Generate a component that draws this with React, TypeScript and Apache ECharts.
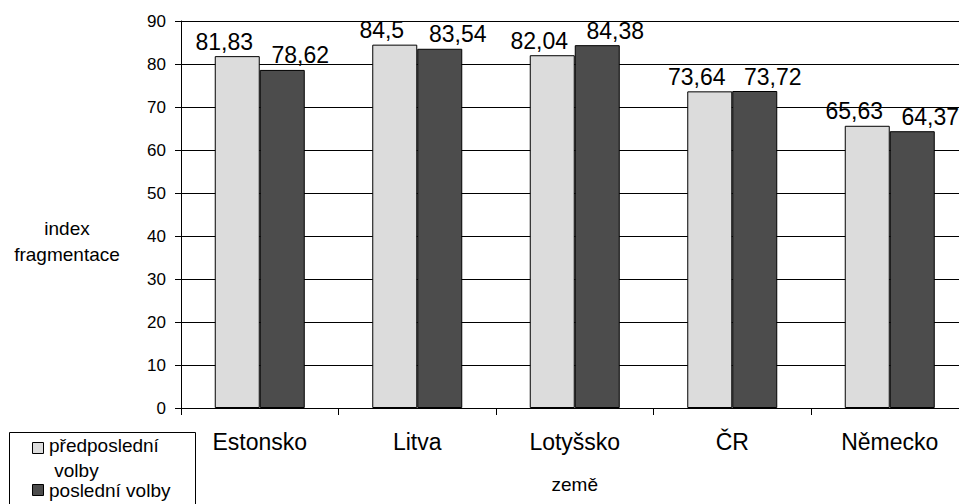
import React, { useEffect, useRef } from "react";
import * as echarts from "echarts";

const categories = ["Estonsko", "Litva", "Lotyšsko", "ČR", "Německo"];
const seriesNames = ["předposlední volby", "poslední volby"];
const previousElection = [81.83, 84.5, 82.04, 73.64, 65.63];
const lastElection = [78.62, 83.54, 84.38, 73.72, 64.37];
const yTicks = { min: 0, max: 90, interval: 10 };
const yAxisName = "index\nfragmentace";
const xAxisName = "země";

const FONT = "'Liberation Sans', Arial, sans-serif";
const COLORS = ["#dcdcdc", "#4c4c4c"];

export default function App() {
  const ref = useRef<HTMLDivElement>(null);

  useEffect(() => {
    if (!ref.current) return;
    const chart = echarts.init(ref.current, undefined, { renderer: "svg" });
    const fmt = (p: any) => String(p.value).replace(".", ",");
    const mkSeries = (name: string, data: number[], i: number) => ({
      type: "bar",
      name,
      data,
      barWidth: 45,
      barGap: "0%",
      itemStyle: { color: COLORS[i], borderColor: "#000", borderWidth: 1 },
      label: {
        show: true,
        position: "top",
        distance: 3,
        offset: [i === 0 ? -13 : 18, 0],
        formatter: fmt,
        color: "#000",
        fontSize: 23,
        fontFamily: FONT,
      },
    });

    chart.setOption({
      animation: false,
      backgroundColor: "#fff",
      textStyle: { fontFamily: FONT },
      grid: { left: 181, top: 21, width: 787.5, height: 387, containLabel: false },
      xAxis: {
        type: "category",
        data: categories,
        name: xAxisName,
        nameLocation: "middle",
        nameGap: 76,
        nameTextStyle: { fontSize: 19, color: "#000", fontFamily: FONT, verticalAlign: "middle" },
        axisLine: { lineStyle: { color: "#000", width: 1 } },
        axisTick: { show: true, length: 7, lineStyle: { color: "#000" } },
        axisLabel: { color: "#000", fontSize: 23, fontFamily: FONT, margin: 22 },
      },
      yAxis: {
        type: "value",
        min: yTicks.min,
        max: yTicks.max,
        interval: yTicks.interval,
        axisLine: { show: true, lineStyle: { color: "#000", width: 1 } },
        axisTick: { show: true, length: 6, lineStyle: { color: "#000" } },
        axisLabel: { color: "#000", fontSize: 17, fontFamily: FONT, margin: 15 },
        splitLine: { show: true, lineStyle: { color: "#000", width: 1 } },
      },
      series: [
        mkSeries(seriesNames[0], previousElection, 0),
        mkSeries(seriesNames[1], lastElection, 1),
      ],
      graphic: [
        {
          type: "text",
          x: 67,
          y: 215,
          style: {
            text: yAxisName,
            align: "center",
            verticalAlign: "top",
            lineHeight: 26,
            fontSize: 19,
            fontFamily: FONT,
            fill: "#000",
          },
        },
        {
          type: "rect",
          shape: { x: 9.5, y: 432.5, width: 186, height: 90 },
          style: { fill: "#fff", stroke: "#000", lineWidth: 1 },
        },
        {
          type: "rect",
          shape: { x: 32.5, y: 442.5, width: 11, height: 11 },
          style: { fill: COLORS[0], stroke: "#000", lineWidth: 1 },
        },
        {
          type: "rect",
          shape: { x: 32.5, y: 484.5, width: 11, height: 11 },
          style: { fill: COLORS[1], stroke: "#000", lineWidth: 1 },
        },
        {
          type: "text",
          x: 49,
          y: 433,
          style: {
            text: seriesNames[0],
            width: 140,
            overflow: "break",
            lineHeight: 25,
            fontSize: 19,
            fontFamily: FONT,
            fill: "#000",
            verticalAlign: "top",
            align: "left",
          },
        },
        {
          type: "text",
          x: 49,
          y: 478,
          style: {
            text: seriesNames[1],
            width: 140,
            overflow: "break",
            lineHeight: 25,
            fontSize: 19,
            fontFamily: FONT,
            fill: "#000",
            verticalAlign: "top",
            align: "left",
          },
        },
      ],
    });
    return () => chart.dispose();
  }, []);

  return (
    <div
      style={{
        position: "fixed",
        left: 0,
        top: 0,
        width: 959,
        height: 504,
        overflow: "hidden",
        background: "#fff",
      }}
    >
      <div ref={ref} style={{ width: 985, height: 504 }} />
    </div>
  );
}
